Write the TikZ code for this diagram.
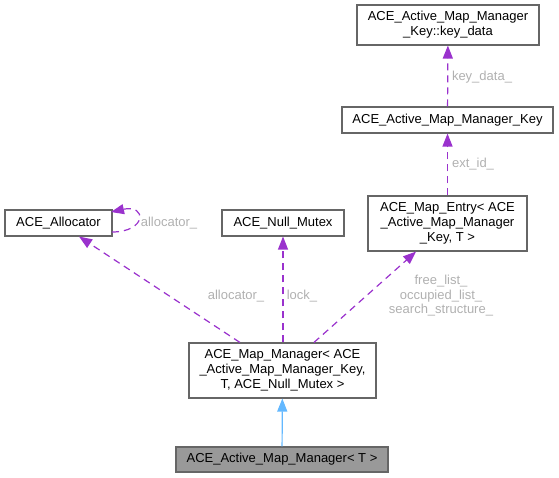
\documentclass[tikz,border=0pt]{standalone}
\usepackage{fontspec}
\setmainfont{Liberation Sans}
\usetikzlibrary{arrows.meta}
\definecolor{usecol}{HTML}{9A32CD}
\definecolor{inhcol}{HTML}{63B8FF}
\definecolor{boxcol}{HTML}{666666}
\definecolor{labcol}{HTML}{B0B0B0}
\definecolor{fillcol}{HTML}{999999}
\tikzset{
  cls/.style={draw=boxcol, line width=1.1pt, fill=white, inner sep=0pt, align=center,
    font=\fontsize{13}{15}\selectfont},
  uses/.style={draw=usecol, line width=1.2pt, dash pattern=on 7pt off 5pt,
    -{Triangle[length=13pt,width=10pt]}},
  inh/.style={draw=inhcol, line width=1.2pt, -{Triangle[length=13pt,width=10pt]}},
  lab/.style={text=labcol, inner sep=0pt, align=center, font=\fontsize{13}{14.5}\selectfont},
}
\begin{document}
\begin{tikzpicture}[x=1pt,y=-1pt]
\useasboundingbox (0,0) rectangle (559,477);
\node[cls, minimum width=182pt, minimum height=40pt] (kd) at (448,25)
  {ACE\_Active\_Map\_Manager\\\_Key::key\_data};
\node[cls, minimum width=211pt, minimum height=26pt] (key) at (447.5,120)
  {ACE\_Active\_Map\_Manager\_Key};
\node[cls, minimum width=159pt, minimum height=55pt] (me) at (447.5,223.5)
  {ACE\_Map\_Entry< ACE\\\_Active\_Map\_Manager\\\_Key, T >};
\node[cls, minimum width=107pt, minimum height=26pt] (al) at (58.5,223)
  {ACE\_Allocator};
\node[cls, minimum width=122pt, minimum height=26pt] (nm) at (283,223)
  {ACE\_Null\_Mutex};
\node[cls, minimum width=187pt, minimum height=55pt] (mm) at (282.5,370.5)
  {ACE\_Map\_Manager< ACE\\\_Active\_Map\_Manager\_Key,\\T, ACE\_Null\_Mutex >};
\node[cls, fill=fillcol, minimum width=212pt, minimum height=25pt] (am) at (282,459.5)
  {ACE\_Active\_Map\_Manager< T >};

\draw[uses] (key) -- (kd);
\draw[uses] (me) -- (key);
\draw[uses] (mm) -- (al);
\draw[uses] (mm.north -| nm) -- (nm);
\draw[uses] (mm) -- (me);
\draw[inh] (am) -- (mm);

\coordinate (ls) at (112,232);
\coordinate (le) at (111,212);
\draw[uses] (ls) .. controls (147,232) and (147,204) .. (le);

\node[lab] (l1) at (169,223) {allocator\_};
\node[lab] (l2) at (236,296) {allocator\_};
\node[lab] (l3) at (302,296) {lock\_};
\node[lab] (l4) at (441,296) {free\_list\_\\occupied\_list\_\\search\_structure\_};
\node[lab] (l5) at (482,77) {key\_data\_};
\node[lab] (l6) at (473,164) {ext\_id\_};
\end{tikzpicture}
\end{document}
